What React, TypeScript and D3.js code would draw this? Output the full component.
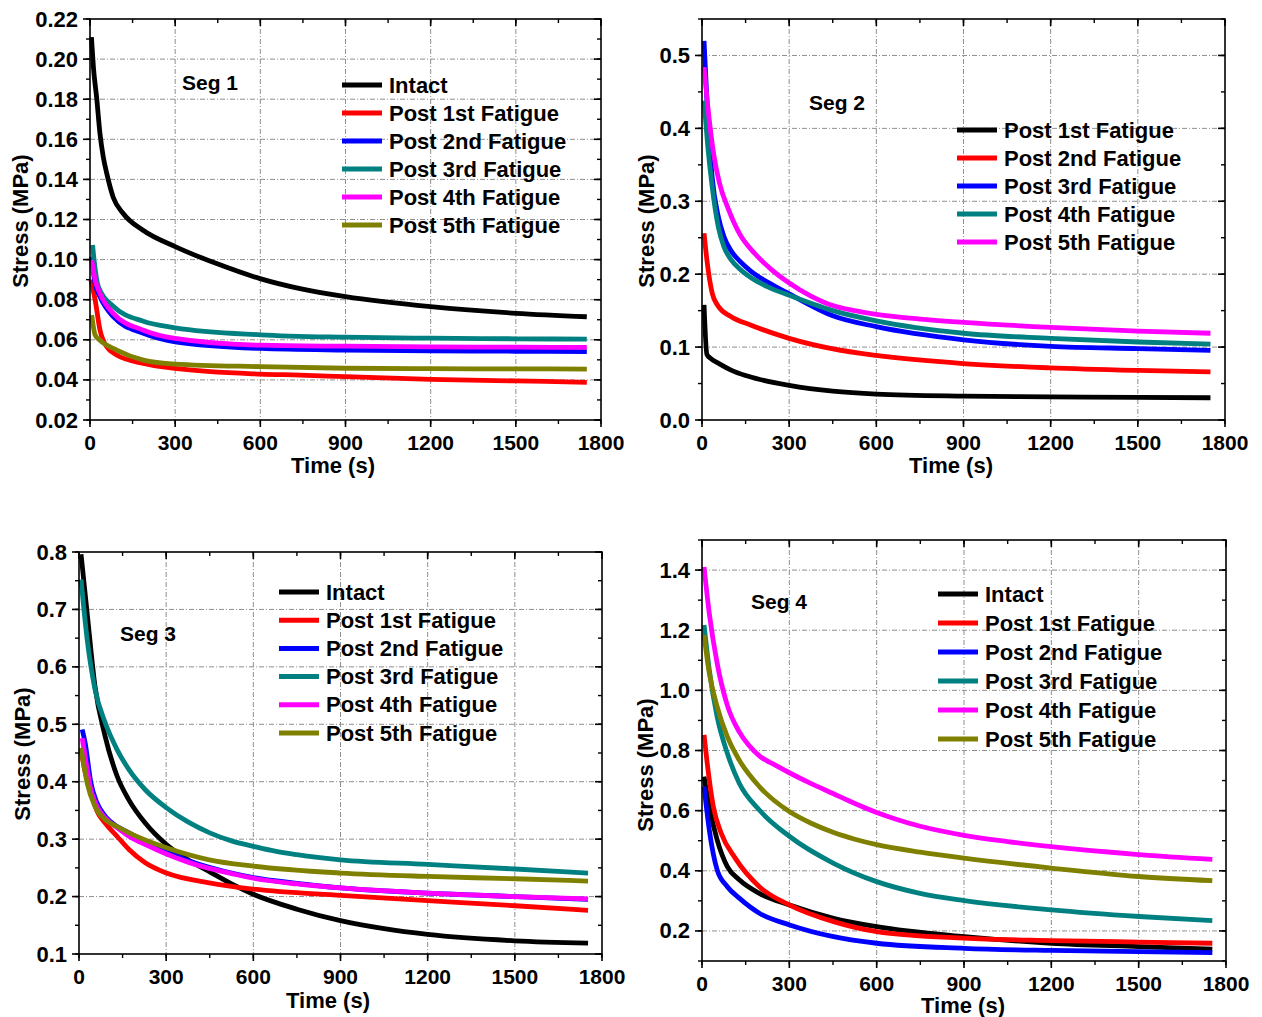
import React from "react";
import * as d3 from "d3";

// ---------- DATA ----------
const xTicks = [0, 300, 600, 900, 1200, 1500, 1800];

const seg1YTicks = [0.02, 0.04, 0.06, 0.08, 0.1, 0.12, 0.14, 0.16, 0.18, 0.2, 0.22];
const seg2YTicks = [0.0, 0.1, 0.2, 0.3, 0.4, 0.5];
const seg3YTicks = [0.1, 0.2, 0.3, 0.4, 0.5, 0.6, 0.7, 0.8];
const seg4YTicks = [0.2, 0.4, 0.6, 0.8, 1.0, 1.2, 1.4];

const seriesNames6 = ["Intact", "Post 1st Fatigue", "Post 2nd Fatigue", "Post 3rd Fatigue", "Post 4th Fatigue", "Post 5th Fatigue"];
const seriesNames5 = ["Post 1st Fatigue", "Post 2nd Fatigue", "Post 3rd Fatigue", "Post 4th Fatigue", "Post 5th Fatigue"];
const colors6 = ["#000000", "#ff0000", "#0000ff", "#008080", "#ff00ff", "#808000"];
const colors5 = ["#000000", "#ff0000", "#0000ff", "#008080", "#ff00ff"];

// Seg 1  [time (s), stress (MPa)]
const seg1Intact = [[5,0.211],[12,0.196],[24,0.180],[35,0.163],[47,0.151],[59,0.143],[82,0.131],[117,0.123],[188,0.1145],[300,0.1065],[446,0.098],[599,0.0905],[740,0.0855],[900,0.0815],[1200,0.0765],[1500,0.0732],[1750,0.0715]];
const seg1Post1 = [[3,0.090],[18,0.080],[35,0.065],[59,0.0565],[94,0.0524],[188,0.0482],[300,0.0457],[600,0.0429],[740,0.0424],[900,0.0416],[1200,0.0403],[1500,0.0395],[1750,0.0388]];
const seg1Post2 = [[5,0.1015],[18,0.088],[35,0.0815],[82,0.0715],[188,0.0632],[300,0.059],[600,0.0557],[900,0.0549],[1200,0.0545],[1500,0.0543],[1750,0.0541]];
const seg1Post3 = [[9,0.1073],[15,0.099],[29,0.0867],[82,0.0767],[188,0.0692],[300,0.066],[600,0.0625],[900,0.0613],[1200,0.0608],[1500,0.0605],[1750,0.0603]];
const seg1Post4 = [[6,0.0998],[18,0.090],[35,0.0832],[82,0.0732],[188,0.0648],[300,0.0607],[600,0.0573],[900,0.0568],[1200,0.0565],[1500,0.0563],[1750,0.0562]];
const seg1Post5 = [[6,0.0723],[18,0.0624],[35,0.0598],[94,0.0549],[188,0.0499],[300,0.0479],[600,0.0466],[900,0.0458],[1200,0.0456],[1500,0.0455],[1750,0.0454]];

// Seg 2
const seg2Post1 = [[7,0.158],[17,0.0897],[28,0.085],[60,0.077],[100,0.0685],[150,0.061],[200,0.0555],[300,0.0475],[450,0.0395],[600,0.0355],[900,0.0328],[1200,0.0318],[1500,0.031],[1750,0.0305]];
const seg2Post2 = [[7,0.256],[17,0.219],[35,0.174],[56,0.156],[99,0.142],[169,0.130],[300,0.112],[451,0.0975],[599,0.0885],[899,0.0774],[1197,0.0715],[1500,0.068],[1750,0.066]];
const seg2Post3 = [[7,0.52],[17,0.438],[35,0.333],[56,0.279],[75,0.252],[100,0.232],[130,0.218],[169,0.204],[230,0.188],[300,0.173],[450,0.143],[600,0.128],[900,0.110],[1200,0.101],[1500,0.098],[1750,0.0956]];
const seg2Post4 = [[7,0.438],[20,0.375],[35,0.32],[56,0.265],[75,0.238],[100,0.220],[130,0.207],[169,0.195],[230,0.182],[300,0.171],[450,0.150],[600,0.136],[900,0.119],[1200,0.112],[1500,0.107],[1750,0.104]];
const seg2Post5 = [[7,0.484],[20,0.43],[40,0.365],[60,0.325],[90,0.29],[130,0.255],[180,0.229],[240,0.206],[300,0.188],[375,0.170],[450,0.157],[525,0.150],[600,0.145],[750,0.1385],[900,0.134],[1200,0.127],[1500,0.122],[1750,0.119]];

// Seg 3
const seg3Intact = [[7,0.796],[28,0.694],[55,0.566],[90,0.479],[131,0.410],[172,0.368],[228,0.328],[300,0.291],[375,0.264],[450,0.243],[525,0.222],[600,0.204],[750,0.178],[900,0.158],[1050,0.144],[1200,0.134],[1500,0.123],[1752,0.119]];
const seg3Post1 = [[7,0.455],[20,0.42],[41,0.381],[62,0.349],[90,0.328],[131,0.305],[172,0.282],[228,0.259],[301,0.241],[448,0.224],[600,0.213],[901,0.202],[1200,0.193],[1501,0.184],[1752,0.176]];
const seg3Post2 = [[11,0.491],[21,0.468],[41,0.398],[62,0.363],[90,0.340],[131,0.322],[172,0.311],[240,0.292],[301,0.278],[375,0.263],[448,0.251],[525,0.241],[600,0.233],[750,0.223],[900,0.215],[1200,0.206],[1501,0.200],[1752,0.195]];
const seg3Post3 = [[7,0.752],[28,0.648],[55,0.561],[90,0.503],[131,0.456],[172,0.421],[228,0.386],[300,0.355],[375,0.330],[450,0.311],[525,0.297],[600,0.2875],[675,0.279],[750,0.273],[900,0.264],[1200,0.256],[1501,0.248],[1752,0.241]];
const seg3Post4 = [[11,0.476],[21,0.444],[41,0.386],[62,0.357],[90,0.337],[131,0.320],[172,0.305],[240,0.288],[301,0.274],[375,0.260],[448,0.249],[525,0.240],[600,0.232],[750,0.222],[900,0.215],[1200,0.206],[1501,0.200],[1752,0.196]];
const seg3Post5 = [[7,0.459],[28,0.398],[55,0.357],[90,0.334],[131,0.322],[172,0.311],[301,0.285],[448,0.264],[600,0.253],[901,0.241],[1200,0.235],[1501,0.231],[1752,0.227]];

// Seg 4
const seg4Intact = [[7,0.713],[25,0.613],[52,0.503],[87,0.414],[128,0.370],[197,0.325],[301,0.286],[452,0.242],[600,0.214],[901,0.181],[1201,0.159],[1501,0.148],[1753,0.139]];
const seg4Post1 = [[7,0.852],[18,0.757],[39,0.613],[66,0.525],[114,0.442],[197,0.347],[301,0.286],[452,0.231],[600,0.198],[901,0.176],[1201,0.168],[1501,0.163],[1753,0.159]];
const seg4Post2 = [[7,0.68],[25,0.536],[52,0.403],[87,0.347],[128,0.309],[197,0.259],[301,0.220],[452,0.181],[600,0.159],[901,0.142],[1201,0.135],[1501,0.131],[1753,0.128]];
const seg4Post3 = [[7,1.217],[25,1.068],[52,0.912],[87,0.791],[128,0.691],[197,0.602],[301,0.514],[452,0.425],[600,0.364],[749,0.325],[901,0.301],[1201,0.270],[1501,0.248],[1753,0.234]];
const seg4Post4 = [[7,1.41],[25,1.256],[52,1.09],[87,0.95],[128,0.862],[160,0.818],[200,0.78],[250,0.752],[300,0.726],[375,0.690],[450,0.657],[525,0.624],[600,0.594],[675,0.569],[750,0.548],[900,0.518],[1050,0.497],[1200,0.48],[1500,0.454],[1753,0.438]];
const seg4Post5 = [[7,1.184],[25,1.057],[52,0.946],[87,0.846],[128,0.768],[197,0.680],[300,0.597],[375,0.558],[450,0.528],[525,0.505],[600,0.487],[750,0.462],[900,0.442],[1200,0.409],[1500,0.381],[1753,0.367]];

// ---------- LAYOUT ----------
const FONT = "'Liberation Sans', Arial, Helvetica, sans-serif";

const panels = [
  {
    label: "Seg 1", box: { l: 90, r: 601, t: 19, b: 420 }, yDomain: [0.02, 0.22], yTicks: seg1YTicks, yMinorStep: 0.01, fmt: ".2f",
    series: [seg1Intact, seg1Post1, seg1Post2, seg1Post3, seg1Post4, seg1Post5], names: seriesNames6, colors: colors6,
    legend: { x: 342, y: 85, dy: 28 }, segPos: { x: 182, y: 82 }, ytitle: { x: 20, y: 221 }, xtitle: { x: 333, y: 465 },
  },
  {
    label: "Seg 2", box: { l: 702, r: 1225, t: 19, b: 420 }, yDomain: [0, 0.55], yTicks: seg2YTicks, yMinorStep: 0.05, fmt: ".1f",
    series: [seg2Post1, seg2Post2, seg2Post3, seg2Post4, seg2Post5], names: seriesNames5, colors: colors5,
    legend: { x: 957, y: 130, dy: 28 }, segPos: { x: 809, y: 102 }, ytitle: { x: 646, y: 221 }, xtitle: { x: 951, y: 465 },
  },
  {
    label: "Seg 3", box: { l: 79, r: 602, t: 552, b: 954 }, yDomain: [0.1, 0.8], yTicks: seg3YTicks, yMinorStep: 0.05, fmt: ".1f",
    series: [seg3Intact, seg3Post1, seg3Post2, seg3Post3, seg3Post4, seg3Post5], names: seriesNames6, colors: colors6,
    legend: { x: 279, y: 592, dy: 28.2 }, segPos: { x: 120, y: 633 }, ytitle: { x: 22, y: 754 }, xtitle: { x: 328, y: 1000 },
  },
  {
    label: "Seg 4", box: { l: 702, r: 1226, t: 540, b: 961 }, yDomain: [0.1, 1.5], yTicks: seg4YTicks, yMinorStep: 0.1, fmt: ".1f",
    series: [seg4Intact, seg4Post1, seg4Post2, seg4Post3, seg4Post4, seg4Post5], names: seriesNames6, colors: colors6,
    legend: { x: 938, y: 594, dy: 29 }, segPos: { x: 751, y: 601 }, ytitle: { x: 645, y: 765 }, xtitle: { x: 963, y: 1005 },
  },
];

function Panel({ p }) {
  const { box } = p;
  const x = d3.scaleLinear().domain([0, 1800]).range([box.l, box.r]);
  const y = d3.scaleLinear().domain(p.yDomain).range([box.b, box.t]);
  const line = d3
    .line()
    .x((d) => x(d[0]))
    .y((d) => y(d[1]))
    .curve(d3.curveMonotoneX);
  const fmt = d3.format(p.fmt);

  const nMinorY = Math.round((p.yDomain[1] - p.yDomain[0]) / p.yMinorStep);
  const yMinor = d3.range(nMinorY + 1).map((i) => p.yDomain[0] + i * p.yMinorStep);
  const xMinor = d3.range(13).map((i) => i * 150);
  const eps = 1e-9;
  const gridY = p.yTicks.filter((v) => v > p.yDomain[0] + eps && v < p.yDomain[1] - eps);
  const gridX = xTicks.filter((v) => v > 0 && v < 1800);

  const gridStyle = { stroke: "#8f8f8f", strokeWidth: 1, strokeDasharray: "5,2,1,2", fill: "none" };

  return (
    <g>
      {gridY.map((v, i) => (
        <line key={"gy" + i} x1={box.l} x2={box.r} y1={y(v)} y2={y(v)} style={gridStyle} />
      ))}
      {gridX.map((v, i) => (
        <line key={"gx" + i} y1={box.t} y2={box.b} x1={x(v)} x2={x(v)} style={gridStyle} />
      ))}

      {p.series.map((s, i) => (
        <path key={"s" + i} d={line(s)} fill="none" stroke={p.colors[i]} strokeWidth={4.8} strokeLinejoin="round" />
      ))}

      <rect x={box.l} y={box.t} width={box.r - box.l} height={box.b - box.t} fill="none" stroke="#000" strokeWidth={1.6} />

      {/* minor ticks */}
      {yMinor.map((v, i) => (
        <g key={"ym" + i}>
          <line x1={box.l - 4} x2={box.l} y1={y(v)} y2={y(v)} stroke="#000" strokeWidth={1.4} />
          <line x1={box.r - 4} x2={box.r} y1={y(v)} y2={y(v)} stroke="#000" strokeWidth={1.4} />
        </g>
      ))}
      {xMinor.map((v, i) => (
        <g key={"xm" + i}>
          <line y1={box.b} y2={box.b + 4} x1={x(v)} x2={x(v)} stroke="#000" strokeWidth={1.4} />
          <line y1={box.t} y2={box.t + 4} x1={x(v)} x2={x(v)} stroke="#000" strokeWidth={1.4} />
        </g>
      ))}
      {/* major ticks */}
      {p.yTicks.map((v, i) => (
        <g key={"yt" + i}>
          <line x1={box.l - 7} x2={box.l} y1={y(v)} y2={y(v)} stroke="#000" strokeWidth={1.6} />
          <line x1={box.r - 7} x2={box.r} y1={y(v)} y2={y(v)} stroke="#000" strokeWidth={1.6} />
          <text x={box.l - 12} y={y(v)} textAnchor="end" dominantBaseline="central" fontFamily={FONT} fontWeight="bold" fontSize={22}>
            {fmt(v)}
          </text>
        </g>
      ))}
      {xTicks.map((v, i) => (
        <g key={"xt" + i}>
          <line y1={box.b} y2={box.b + 7} x1={x(v)} x2={x(v)} stroke="#000" strokeWidth={1.6} />
          <line y1={box.t} y2={box.t + 7} x1={x(v)} x2={x(v)} stroke="#000" strokeWidth={1.6} />
          <text x={x(v)} y={box.b + 22} textAnchor="middle" dominantBaseline="central" fontFamily={FONT} fontWeight="bold" fontSize={21}>
            {v}
          </text>
        </g>
      ))}

      {/* axis titles */}
      <text x={p.xtitle.x} y={p.xtitle.y} textAnchor="middle" dominantBaseline="central" fontFamily={FONT} fontWeight="bold" fontSize={22}>
        Time (s)
      </text>
      <text
        transform={`translate(${p.ytitle.x},${p.ytitle.y}) rotate(-90)`}
        textAnchor="middle"
        dominantBaseline="central"
        fontFamily={FONT}
        fontWeight="bold"
        fontSize={22}
      >
        Stress (MPa)
      </text>

      {/* seg label */}
      <text x={p.segPos.x} y={p.segPos.y} dominantBaseline="central" fontFamily={FONT} fontWeight="bold" fontSize={21}>
        {p.label}
      </text>

      {/* legend */}
      {p.names.map((n, i) => {
        const ly = p.legend.y + i * p.legend.dy;
        return (
          <g key={"lg" + i}>
            <line x1={p.legend.x} x2={p.legend.x + 40} y1={ly} y2={ly} stroke={p.colors[i]} strokeWidth={5} />
            <text x={p.legend.x + 47} y={ly} dominantBaseline="central" fontFamily={FONT} fontWeight="bold" fontSize={22}>
              {n}
            </text>
          </g>
        );
      })}
    </g>
  );
}

export default function App() {
  return (
    <svg
      width={1262}
      height={1017}
      viewBox="0 0 1262 1017"
      style={{ position: "absolute", left: 0, top: 0, background: "#fff" }}
    >
      <rect x={0} y={0} width={1262} height={1017} fill="#fff" />
      {panels.map((p, i) => (
        <Panel key={i} p={p} />
      ))}
    </svg>
  );
}
